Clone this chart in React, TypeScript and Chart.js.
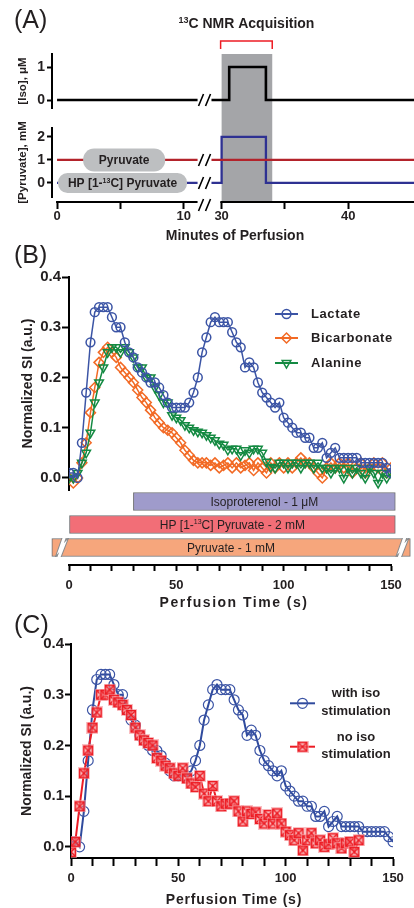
import React, { useEffect, useRef } from 'react';
import { Chart, registerables } from 'chart.js';

Chart.register(...registerables);

const FONT = "'Liberation Sans', Arial, Helvetica, sans-serif";
const INK = '#231f20';
Chart.defaults.font.family = FONT;
Chart.defaults.color = INK;

// ================= Panel A data (minutes / levels) =================
const isoMinutes = [0, 11.1, 11.1, 29.2, 30.6, 30.6, 33.5, 33.5, 46];
const isoLevels = [0, 0, null, 0, 0, 1, 1, 0, 0];
const pyrMinutes = [0, 11.1, 11.1, 29.2, 46];
const pyrLevels = [1, 1, null, 1, 1];
const hpMinutes = [0, 11.1, 11.1, 29.2, 30.0, 30.0, 33.5, 33.5, 46];
const hpLevels = [0, 0, null, 0, 0, 2, 2, 0, 0];
const minuteTicks = [0, 5, 10, 30, 35, 40];
const minuteTickLabels = ['0', '', '10', '30', '', '40'];
const isoTicks = [0, 1];
const pyrTicks = [0, 1, 2];
const acquisitionWindow = [30, 34];
const leftSegmentEnd = 11.1;
const rightSegmentStart = 29.2;
const rightAxisStart = 29.9;
const GAP_FROM = 20;
const GAP_SHIFT = 17;
const toAxis = (m: number) => (m > GAP_FROM ? m - GAP_SHIFT : m);

// ================= Panel B / C data =================
const timeS = [0, 2, 4, 6, 8, 10, 12, 14, 16, 18, 20, 22, 24, 26, 28, 30, 32, 34, 36, 38, 40, 42, 44, 46, 48, 50, 52, 54, 56, 58, 60, 62, 64, 66, 68, 70, 72, 74, 76, 78, 80, 82, 84, 86, 88, 90, 92, 94, 96, 98, 100, 102, 104, 106, 108, 110, 112, 114, 116, 118, 120, 122, 124, 126, 128, 130, 132, 134, 136, 138, 140, 142, 144, 146, 148, 150];

const lactate = [0.01, 0.01, 0.00, 0.07, 0.17, 0.27, 0.33, 0.34, 0.34, 0.34,
  0.32, 0.30, 0.30, 0.27, 0.25, 0.24, 0.22, 0.21, 0.20, 0.19,
  0.19, 0.18, 0.165, 0.15, 0.14, 0.14, 0.14, 0.14, 0.15, 0.17,
  0.20, 0.25, 0.28, 0.31, 0.32, 0.31, 0.31, 0.31, 0.29, 0.27,
  0.26, 0.22, 0.23, 0.22, 0.19, 0.17, 0.16, 0.15, 0.14, 0.15,
  0.12, 0.11, 0.10, 0.09, 0.09, 0.08, 0.08, 0.06, 0.06, 0.07,
  0.04, 0.05, 0.06, 0.04, 0.04, 0.04, 0.04, 0.04, 0.03, 0.03,
  0.03, 0.03, 0.03, 0.03, 0.02, 0.01];

const bicarbonate = [0.00, -0.01, 0.00, 0.03, 0.07, 0.13, 0.18, 0.23, 0.25, 0.26,
  0.25, 0.24, 0.22, 0.21, 0.20, 0.19, 0.175, 0.16, 0.15, 0.135,
  0.12, 0.11, 0.10, 0.095, 0.09, 0.08, 0.07, 0.055, 0.045, 0.035,
  0.03, 0.03, 0.03, 0.025, 0.03, 0.02, 0.025, 0.03, 0.02, 0.03,
  0.02, 0.025, 0.03, 0.015, 0.03, 0.02, 0.01, 0.03, 0.02, 0.03,
  0.02, 0.03, 0.02, 0.03, 0.04, 0.03, 0.03, 0.02, 0.01, 0.00,
  0.02, 0.03, 0.02, 0.03, 0.02, 0.03, 0.01, 0.02, 0.03, 0.01,
  0.02, 0.03, 0.02, 0.03, 0.01, 0.02];

const alanine = [0.00, 0.00, 0.01, 0.03, 0.05, 0.09, 0.15, 0.19, 0.22, 0.25,
  0.26, 0.26, 0.25, 0.26, 0.25, 0.24, 0.22, 0.22, 0.20, 0.20,
  0.18, 0.165, 0.15, 0.15, 0.125, 0.12, 0.115, 0.105, 0.10, 0.095,
  0.092, 0.09, 0.085, 0.08, 0.075, 0.068, 0.066, 0.056, 0.058, 0.058,
  0.045, 0.055, 0.05, 0.058, 0.058, 0.05, 0.032, 0.022, 0.02, 0.03,
  0.03, 0.02, 0.03, 0.03, 0.02, 0.03, 0.03, 0.02, 0.03, 0.02,
  0.02, 0.01, 0.02, 0.02, 0.00, 0.02, 0.01, 0.02, 0.01, 0.00,
  0.02, 0.01, -0.01, 0.01, 0.00, 0.01];

const noIso = [-0.01, 0.01, 0.08, 0.145, 0.19, 0.235, 0.265, 0.30, 0.30, 0.31,
  0.29, 0.285, 0.28, 0.27, 0.26, 0.235, 0.22, 0.21, 0.205, 0.20,
  0.175, 0.17, 0.16, 0.155, 0.145, 0.14, 0.155, 0.135, 0.125, 0.118,
  0.14, 0.105, 0.09, 0.12, 0.09, 0.08, 0.085, 0.085, 0.09, 0.07,
  0.05, 0.07, 0.065, 0.068, 0.055, 0.046, 0.063, 0.046, 0.066, 0.046,
  0.03, 0.023, 0.013, 0.027, -0.007, 0.013, 0.027, 0.007, 0.013, 0.0,
  0.005, 0.017, 0.007, -0.003, 0.007, 0.01, -0.01, 0.013];

const siTicks = [0, 0.1, 0.2, 0.3, 0.4];
const bSeriesNames = ['Lactate', 'Bicarbonate', 'Alanine'];
const cSeriesNames = [['with iso', 'stimulation'], ['no iso', 'stimulation']];
const infusionLabels = ['Isoproterenol - 1 \u03bcM', 'HP [1-{13}C] Pyruvate - 2 mM', 'Pyruvate - 1 mM'];
const infusionSpans = [[30, 152], [0, 152], [-8, 159]];
const infusionColors = ['#9f9bcb', '#f26e77', '#f6a67c'];
const pyruvateBreaks = [-3.6, 155];

// ================= helpers =================
type Part = { t: string; sup?: boolean };
function parseSup(s: string): Part[] {
  return s.split(/(\{[^}]*\})/).filter(Boolean).map((x) => (x.startsWith('{') ? { t: x.slice(1, -1), sup: true } : { t: x }));
}
function drawRich(ctx: any, s: string, cx: number, cy: number, size: number, weight: string, color = INK) {
  const parts = parseSup(s);
  const sup = Math.round(size * 0.62);
  const widths = parts.map((p) => {
    ctx.font = `${weight} ${p.sup ? sup : size}px ${FONT}`;
    return ctx.measureText(p.t).width;
  });
  const total = widths.reduce((a, b) => a + b, 0);
  let x = cx - total / 2;
  const base = cy + size * 0.36;
  ctx.save();
  ctx.fillStyle = color;
  ctx.textAlign = 'left';
  ctx.textBaseline = 'alphabetic';
  parts.forEach((p, i) => {
    ctx.font = `${weight} ${p.sup ? sup : size}px ${FONT}`;
    ctx.fillText(p.t, x, p.sup ? base - size * 0.38 : base);
    x += widths[i];
  });
  ctx.restore();
}
function drawText(ctx: any, s: string, x: number, y: number, font: string, align = 'center', spacing = '0px') {
  ctx.save();
  ctx.font = font;
  ctx.fillStyle = INK;
  ctx.textAlign = align;
  ctx.textBaseline = 'middle';
  ctx.letterSpacing = spacing;
  ctx.fillText(s, x, y);
  ctx.letterSpacing = '0px';
  ctx.restore();
}
function roundRect(ctx: any, x: number, y: number, w: number, h: number, r: number) {
  ctx.beginPath();
  ctx.moveTo(x + r, y);
  ctx.lineTo(x + w - r, y);
  ctx.arc(x + w - r, y + r, r, -Math.PI / 2, 0);
  ctx.lineTo(x + w, y + h - r);
  ctx.arc(x + w - r, y + h - r, r, 0, Math.PI / 2);
  ctx.lineTo(x + r, y + h);
  ctx.arc(x + r, y + h - r, r, Math.PI / 2, Math.PI);
  ctx.lineTo(x, y + r);
  ctx.arc(x + r, y + r, r, Math.PI, Math.PI * 1.5);
  ctx.closePath();
}
function drawMarker(ctx: any, ds: any, x: number, y: number) {
  const style = ds.pointStyle;
  ctx.save();
  if (typeof style === 'object') {
    ctx.drawImage(style, x - style.width / 2, y - style.height / 2);
    ctx.restore();
    return;
  }
  const r = ds.pointRadius;
  ctx.strokeStyle = ds.pointBorderColor;
  ctx.lineWidth = ds.pointBorderWidth;
  ctx.beginPath();
  if (style === 'circle') ctx.arc(x, y, r, 0, Math.PI * 2);
  else if (style === 'rectRot') {
    ctx.moveTo(x - r, y); ctx.lineTo(x, y - r); ctx.lineTo(x + r, y); ctx.lineTo(x, y + r); ctx.closePath();
  } else if (style === 'triangle') {
    let a = ((ds.pointRotation || 0) * Math.PI) / 180;
    ctx.moveTo(x + Math.sin(a) * r, y - Math.cos(a) * r);
    a += (2 * Math.PI) / 3;
    ctx.lineTo(x + Math.sin(a) * r, y - Math.cos(a) * r);
    a += (2 * Math.PI) / 3;
    ctx.lineTo(x + Math.sin(a) * r, y - Math.cos(a) * r);
    ctx.closePath();
  }
  ctx.stroke();
  ctx.restore();
}
function makeSquareX() {
  const c = document.createElement('canvas');
  c.width = 12; c.height = 12;
  const g = c.getContext('2d')!;
  g.fillStyle = 'rgba(245,150,155,0.6)';
  g.fillRect(0, 0, 12, 12);
  g.strokeStyle = '#ed1c24';
  g.lineWidth = 1.4;
  g.strokeRect(1.7, 1.7, 8.6, 8.6);
  g.beginPath();
  g.moveTo(2.2, 2.2); g.lineTo(9.8, 9.8); g.moveTo(9.8, 2.2); g.lineTo(2.2, 9.8);
  g.stroke();
  return c;
}
const hidden = { grid: { display: false }, ticks: { display: false }, border: { display: false } };
const tickFontX = { size: 13, weight: 'bold' as const };
const baseOptions = {
  animation: false,
  responsive: true,
  maintainAspectRatio: false,
  events: [],
  plugins: { legend: { display: false }, tooltip: { enabled: false } },
};

// ================= Panel A config =================
function buildA() {
  const pts = (xs: number[], ys: (number | null)[]) => xs.map((m, i) => ({ x: toAxis(m), y: ys[i] }));
  const plugin = {
    id: 'panelA',
    beforeDatasetsDraw(chart: any) {
      const { ctx, chartArea: ca, scales } = chart;
      const X = scales.x;
      const x0 = X.getPixelForValue(toAxis(acquisitionWindow[0]));
      const x1 = X.getPixelForValue(toAxis(acquisitionWindow[1]));
      ctx.save();
      ctx.fillStyle = '#a4a5a8';
      ctx.fillRect(x0, ca.top, x1 - x0, ca.bottom - ca.top);
      ctx.restore();
    },
    afterDatasetsDraw(chart: any) {
      const { ctx, chartArea: ca, scales } = chart;
      const X = scales.x, yI = scales.yIso, yP = scales.yPyr;
      ctx.save();
      ctx.strokeStyle = '#000';
      ctx.lineWidth = 2;
      ctx.beginPath();
      ctx.moveTo(X.getPixelForValue(toAxis(0)) - 1, ca.bottom);
      ctx.lineTo(X.getPixelForValue(toAxis(leftSegmentEnd)), ca.bottom);
      ctx.moveTo(X.getPixelForValue(toAxis(rightAxisStart)), ca.bottom);
      ctx.lineTo(ca.right, ca.bottom);
      ctx.stroke();
      const bx = (X.getPixelForValue(toAxis(leftSegmentEnd)) + X.getPixelForValue(toAxis(rightSegmentStart))) / 2;
      ctx.lineWidth = 1.6;
      const slashes = (y: number) => {
        ctx.beginPath();
        for (const dx of [-3.5, 3.5]) {
          ctx.moveTo(bx + dx - 2.5, y + 6);
          ctx.lineTo(bx + dx + 2.5, y - 6);
        }
        ctx.stroke();
      };
      slashes(yI.getPixelForValue(0));
      slashes(yP.getPixelForValue(1));
      slashes(yP.getPixelForValue(0));
      slashes(ca.bottom + 3);
      const pill = (minute: number, yv: number, w: number, h: number, label: string) => {
        const cx = X.getPixelForValue(toAxis(minute));
        const cy = yP.getPixelForValue(yv);
        ctx.fillStyle = '#bdbfc1';
        roundRect(ctx, cx - w / 2, cy - h / 2, w, h, h / 2 - 0.5);
        ctx.fill();
        drawRich(ctx, label, cx, cy, 12, 'bold');
      };
      pill(5.3, 1, 82, 23, 'Pyruvate');
      pill(5.17, 0, 129, 20, 'HP [1-{13}C] Pyruvate');
      const bx0 = X.getPixelForValue(toAxis(acquisitionWindow[0])) - 1;
      const bx1 = X.getPixelForValue(toAxis(acquisitionWindow[1]));
      ctx.strokeStyle = '#ed1c24';
      ctx.lineWidth = 1.5;
      ctx.beginPath();
      ctx.moveTo(bx0, ca.top - 5);
      ctx.lineTo(bx0, ca.top - 13);
      ctx.lineTo(bx1, ca.top - 13);
      ctx.lineTo(bx1, ca.top - 5);
      ctx.stroke();
      ctx.restore();
      drawRich(ctx, '{13}C NMR Acquisition', (bx0 + bx1) / 2, 23, 14, 'bold');
      drawText(ctx, '(A)', 14, 21, `25px ${FONT}`, 'left');
      drawText(ctx, 'Minutes of Perfusion', 235, 236, `bold 14px ${FONT}`);
    },
  };
  const yCommon = {
    type: 'linear',
    position: 'left',
    stack: 'a',
    grid: { drawOnChartArea: false, tickLength: 5, tickWidth: 2, tickColor: '#000' },
    border: { color: '#000', width: 2 },
    afterFit: (s: any) => { s.width = 52; },
  };
  return {
    type: 'line',
    data: {
      datasets: [
        { data: pts(isoMinutes, isoLevels), yAxisID: 'yIso', borderColor: '#000', borderWidth: 2.6, pointRadius: 0 },
        { data: pts(pyrMinutes, pyrLevels), yAxisID: 'yPyr', borderColor: '#b3232b', borderWidth: 2.3, pointRadius: 0 },
        { data: pts(hpMinutes, hpLevels), yAxisID: 'yPyr', borderColor: '#2e3192', borderWidth: 2.3, pointRadius: 0 },
      ],
    },
    options: {
      ...baseOptions,
      layout: { padding: { top: 54, right: 0, left: 0, bottom: 0 } },
      scales: {
        x: {
          type: 'linear', min: -0.4, max: 28.2,
          afterBuildTicks: (s: any) => { s.ticks = minuteTicks.map((m) => ({ value: toAxis(m) })); },
          ticks: { callback: (_v: any, i: number) => minuteTickLabels[i], font: tickFontX, color: INK, padding: 0, maxRotation: 0, autoSkip: false },
          grid: { drawOnChartArea: false, tickLength: 7, tickWidth: 2, tickColor: '#000' },
          border: { display: false },
          afterFit: (s: any) => { s.height = 43; },
        },
        yGap2: { type: 'linear', position: 'left', stack: 'a', stackWeight: 5, weight: 1, ...hidden },
        yPyr: {
          ...yCommon, stackWeight: 69, weight: 2, min: -0.61, max: 2.39,
          afterBuildTicks: (s: any) => { s.ticks = pyrTicks.map((v) => ({ value: v })); },
          ticks: { font: { size: 14, weight: 'bold' }, color: INK, padding: 2 },
          title: { display: true, text: '[Pyruvate], mM', font: { size: 11.5, weight: 'bold' }, color: INK, padding: { top: 16, bottom: 0 } },
        },
        yGap1: { type: 'linear', position: 'left', stack: 'a', stackWeight: 20, weight: 3, ...hidden },
        yIso: {
          ...yCommon, stackWeight: 54, weight: 4, min: -0.242, max: 1.394,
          afterBuildTicks: (s: any) => { s.ticks = isoTicks.map((v) => ({ value: v })); },
          ticks: { font: { size: 14, weight: 'bold' }, color: INK, padding: 2 },
          title: { display: true, text: '[Iso], \u03bcM', font: { size: 11.5, weight: 'bold' }, color: INK, padding: { top: 16, bottom: 0 } },
        },
      },
    },
    plugins: [plugin],
  };
}

// ================= Panel B config =================
function buildB() {
  const series = (vals: number[], color: string, style: string, radius: number, rotation: number, order: number) => ({
    data: vals.map((v, i) => ({ x: timeS[i], y: v })),
    xAxisID: 'x', yAxisID: 'yData',
    borderColor: color, borderWidth: 1.5,
    pointStyle: style, pointRadius: radius, pointBorderColor: color,
    pointBackgroundColor: 'rgba(0,0,0,0)', pointBorderWidth: 1.5, pointRotation: rotation, order,
  });
  const plugin = {
    id: 'panelB',
    afterDatasetsDraw(chart: any) {
      const { ctx, scales } = chart;
      const meta = chart.getDatasetMeta(3);
      meta.data.forEach((el: any, i: number) => {
        const left = Math.min(el.x, el.base), right = Math.max(el.x, el.base);
        const top = el.y - el.height / 2, bottom = el.y + el.height / 2;
        if (i === 2) {
          ctx.save();
          ctx.beginPath();
          ctx.rect(left - 1, top - 0.5, right - left + 2, bottom - top + 1);
          ctx.clip();
          for (const b of pyruvateBreaks) {
            const px = scales.x.getPixelForValue(b);
            const mid = (top + bottom) / 2;
            const zig = () => {
              ctx.beginPath();
              ctx.moveTo(px + 3, top - 1);
              ctx.lineTo(px - 1, mid + 1.5);
              ctx.lineTo(px + 2, mid - 1.5);
              ctx.lineTo(px - 2.5, bottom + 1);
              ctx.stroke();
            };
            ctx.strokeStyle = '#8a8b8d'; ctx.lineWidth = 5; zig();
            ctx.strokeStyle = '#ffffff'; ctx.lineWidth = 3; zig();
          }
          ctx.restore();
        }
        drawRich(ctx, infusionLabels[i], (left + right) / 2, el.y, 12, 'normal');
      });
      const rows = [69, 93, 118];
      bSeriesNames.forEach((name, i) => {
        const ds = chart.data.datasets[i];
        const y = rows[i];
        ctx.save();
        ctx.strokeStyle = ds.borderColor;
        ctx.lineWidth = 2;
        ctx.beginPath(); ctx.moveTo(275, y); ctx.lineTo(298, y); ctx.stroke();
        ctx.restore();
        drawMarker(ctx, ds, 286.5, y);
        drawText(ctx, name, 311, y, `bold 13px ${FONT}`, 'left', '0.6px');
      });
      drawText(ctx, '(B)', 14, 11.5, `25px ${FONT}`, 'left');
      drawText(ctx, 'Perfusion Time (s)', 234, 358.5, `bold 14px ${FONT}`, 'center', '1.5px');
    },
  };
  return {
    type: 'line',
    data: {
      datasets: [
        series(lactate, '#3b54a5', 'circle', 4.4, 0, 0),
        series(bicarbonate, '#f26a25', 'rectRot', 5, 0, 2),
        series(alanine, '#148a42', 'triangle', 5, 180, 1),
        {
          type: 'bar', indexAxis: 'y', xAxisID: 'x', yAxisID: 'yBars',
          data: infusionSpans, backgroundColor: infusionColors,
          borderColor: '#6d6e71', borderWidth: 1, borderSkipped: false,
          barThickness: 18, clip: false, order: 5,
        },
      ],
    },
    options: {
      ...baseOptions,
      layout: { padding: { top: 32, right: 23, left: 0, bottom: 0 } },
      scales: {
        x: {
          type: 'linear', min: 0, max: 150,
          ticks: { stepSize: 10, autoSkip: false, maxRotation: 0, callback: (v: number) => (v % 50 === 0 ? String(v) : ''), font: tickFontX, color: INK, padding: 6.5 },
          grid: { drawOnChartArea: false, tickLength: 6, tickWidth: 2, tickColor: '#000' },
          border: { color: '#000', width: 2 },
          afterFit: (s: any) => { s.height = 47; },
        },
        yGap: { type: 'linear', position: 'left', stack: 'b', stackWeight: 6, weight: 1, ...hidden },
        yBars: { type: 'category', labels: infusionLabels, position: 'left', stack: 'b', stackWeight: 69, weight: 2, offset: true, ...hidden },
        yData: {
          type: 'linear', position: 'left', stack: 'b', stackWeight: 213, weight: 3,
          min: -0.024, max: 0.4,
          afterBuildTicks: (s: any) => { s.ticks = siTicks.map((v) => ({ value: v })); },
          ticks: { callback: (v: number) => Number(v).toFixed(1), font: { size: 15, weight: 'bold' }, color: INK, padding: 1 },
          grid: { drawOnChartArea: false, tickLength: 7, tickWidth: 2, tickColor: '#000' },
          border: { color: '#000', width: 2 },
          title: { display: true, text: 'Normalized SI (a.u.)', font: { size: 14, weight: 'bold' }, color: INK, padding: { top: 20, bottom: 0 } },
          afterFit: (s: any) => { s.width = 69; },
        },
      },
    },
    plugins: [plugin],
  };
}

// ================= Panel C config =================
function buildC() {
  const squareX = makeSquareX();
  const plugin = {
    id: 'panelC',
    afterDatasetsDraw(chart: any) {
      const { ctx } = chart;
      const rows = [93.3, 136.7];
      cSeriesNames.forEach((lines, i) => {
        const ds = chart.data.datasets[i];
        const y = rows[i];
        ctx.save();
        ctx.strokeStyle = ds.borderColor;
        ctx.lineWidth = 2;
        ctx.beginPath(); ctx.moveTo(290, y); ctx.lineTo(315, y); ctx.stroke();
        ctx.restore();
        drawMarker(ctx, ds, 302.5, y);
        drawText(ctx, lines[0], 356, y - 9.5, `bold 13px ${FONT}`);
        drawText(ctx, lines[1], 356, y + 8, `bold 13px ${FONT}`);
      });
      drawText(ctx, '(C)', 14, 16, `25px ${FONT}`, 'left');
      drawText(ctx, 'Perfusion Time (s)', 234, 290, `bold 14px ${FONT}`, 'center', '0.8px');
    },
  };
  return {
    type: 'line',
    data: {
      datasets: [
        {
          data: lactate.map((v, i) => ({ x: timeS[i], y: v })),
          borderColor: '#2f4a9d', borderWidth: 2,
          pointStyle: 'circle', pointRadius: 5, pointBorderColor: '#3b54a5',
          pointBackgroundColor: 'rgba(0,0,0,0)', pointBorderWidth: 1.2, order: 1,
        },
        {
          data: noIso.map((v, i) => ({ x: timeS[i], y: v })),
          borderColor: '#ed1c24', borderWidth: 2,
          pointStyle: squareX, pointRadius: 5, order: 0,
        },
      ],
    },
    options: {
      ...baseOptions,
      layout: { padding: { top: 34, right: 21, left: 0, bottom: 0 } },
      scales: {
        x: {
          type: 'linear', min: 0, max: 150,
          ticks: { stepSize: 10, autoSkip: false, maxRotation: 0, callback: (v: number) => (v % 50 === 0 ? String(v) : ''), font: tickFontX, color: INK, padding: 5 },
          grid: { drawOnChartArea: false, tickLength: 8, tickWidth: 2, tickColor: '#000' },
          border: { color: '#000', width: 2 },
          afterFit: (s: any) => { s.height = 50; },
        },
        y: {
          type: 'linear', position: 'left', min: -0.022, max: 0.4,
          afterBuildTicks: (s: any) => { s.ticks = siTicks.map((v) => ({ value: v })); },
          ticks: { callback: (v: number) => Number(v).toFixed(1), font: { size: 15, weight: 'bold' }, color: INK, padding: 1 },
          grid: { drawOnChartArea: false, tickLength: 6, tickWidth: 2, tickColor: '#000' },
          border: { color: '#000', width: 2 },
          title: { display: true, text: 'Normalized SI (a.u.)', font: { size: 14, weight: 'bold' }, color: INK, padding: { top: 18.6, bottom: 0 } },
          afterFit: (s: any) => { s.width = 71; },
        },
      },
    },
    plugins: [plugin],
  };
}

function ChartBox({ top, height, build }: { top: number; height: number; build: () => any }) {
  const ref = useRef<HTMLCanvasElement | null>(null);
  useEffect(() => {
    const chart = new Chart(ref.current as HTMLCanvasElement, build());
    return () => chart.destroy();
  }, []);
  return (
    <div style={{ position: 'absolute', left: 0, top, width: 414, height }}>
      <canvas ref={ref} />
    </div>
  );
}

export default function App() {
  return (
    <div style={{ position: 'fixed', left: 0, top: 0, width: 414, height: 908, background: '#fff', overflow: 'hidden' }}>
      <ChartBox top={0} height={245} build={buildA} />
      <ChartBox top={245} height={367} build={buildB} />
      <ChartBox top={610} height={298} build={buildC} />
    </div>
  );
}
